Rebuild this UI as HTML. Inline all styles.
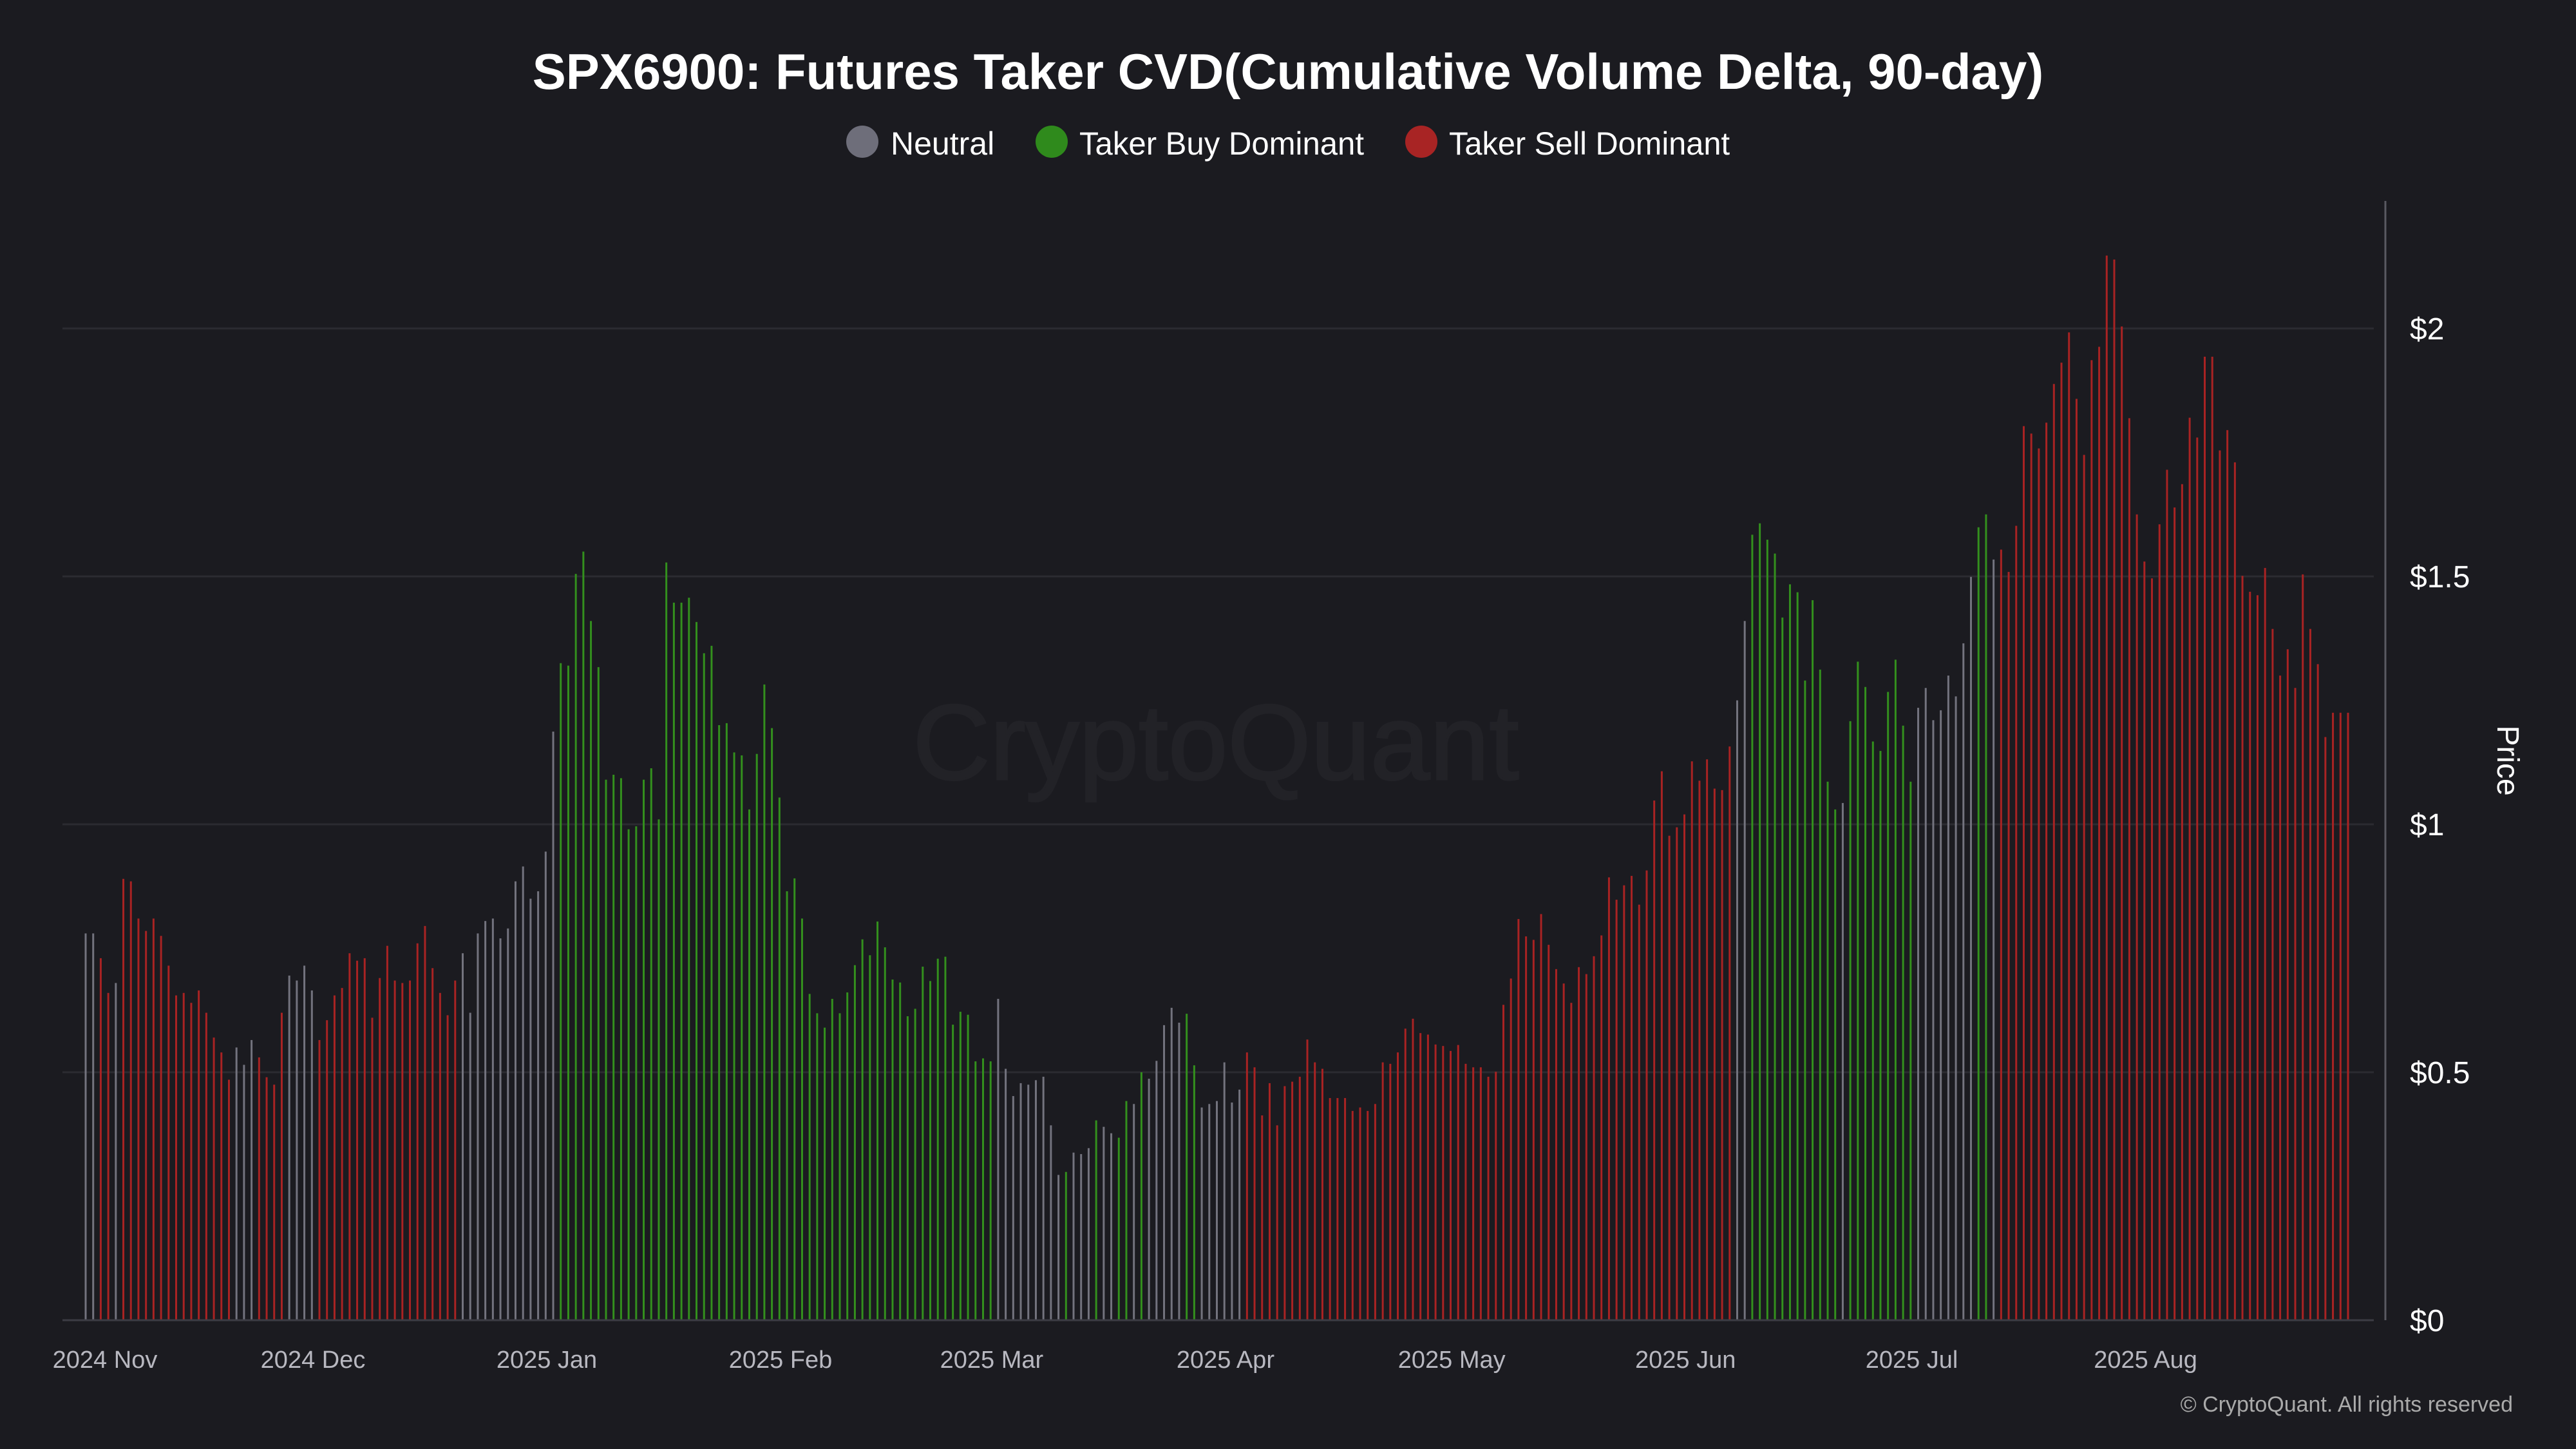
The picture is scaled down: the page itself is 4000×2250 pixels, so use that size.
<!DOCTYPE html>
<html><head><meta charset="utf-8"><style>
body{margin:0;background:#1b1b20;}
svg{display:block}
</style></head><body>
<svg id="chart" width="4000" height="2250" viewBox="0 0 4000 2250" xmlns="http://www.w3.org/2000/svg" font-family="'Liberation Sans', sans-serif">
<rect width="4000" height="2250" fill="#1b1b20"/>
<text x="1888" y="1210" font-size="166" fill="#222227" stroke="#222227" stroke-width="3" text-anchor="middle">CryptoQuant</text>
<text x="2000" y="138" font-size="78" font-weight="bold" fill="#ffffff" text-anchor="middle">SPX6900: Futures Taker CVD(Cumulative Volume Delta, 90-day)</text>
<g>
<g><circle cx="1339" cy="220" r="25" fill="#6e6e7a"/><text x="1383" y="240" font-size="50" fill="#fff">Neutral</text></g>
<g><circle cx="1633" cy="220" r="25" fill="#2f8a1c"/><text x="1676" y="240" font-size="50" fill="#fff" textLength="442" lengthAdjust="spacingAndGlyphs">Taker Buy Dominant</text></g>
<g><circle cx="2207" cy="220" r="25" fill="#a82424"/><text x="2250" y="240" font-size="50" fill="#fff" textLength="436" lengthAdjust="spacingAndGlyphs">Taker Sell Dominant</text></g>
</g>
<g id="grid"></g>
<g id="bars"></g>
<g id="axes"></g>
<text x="3878" y="1181" font-size="48" fill="#fff" text-anchor="middle" transform="rotate(90 3878 1181)">Price</text>
<text x="3902" y="2192" font-size="34" fill="#aaaaaa" text-anchor="end">© CryptoQuant. All rights reserved</text>
</svg>
<script>
const prices=[0.78,0.78,0.73,0.66,0.68,0.89,0.885,0.81,0.785,0.81,0.775,0.715,0.655,0.66,0.64,0.665,0.62,0.57,0.54,0.485,0.55,0.515,0.565,0.53,0.49,0.475,0.62,0.695,0.685,0.715,0.665,0.565,0.605,0.655,0.67,0.74,0.725,0.73,0.61,0.69,0.755,0.685,0.68,0.685,0.76,0.795,0.71,0.66,0.615,0.685,0.74,0.62,0.78,0.805,0.81,0.77,0.79,0.885,0.915,0.85,0.865,
0.945,1.187,1.325,1.32,1.505,1.55,1.41,1.317,1.09,1.10,1.093,0.99,0.996,1.09,1.113,1.01,1.528,1.447,1.447,1.457,1.408,1.345,1.36,1.20,1.204,1.145,1.139,1.03,1.142,1.282,1.194,1.054,0.865,0.891,0.81,0.658,0.619,0.59,0.648,0.619,0.661,0.716,0.768,0.736,0.804,0.752,0.687,0.681,0.613,0.628,0.713,0.684,0.729,0.733,0.596,0.622,0.616,0.522,0.528,0.522,0.648,
0.507,0.452,0.478,0.475,0.484,0.491,0.393,0.293,0.299,0.338,0.335,0.347,0.403,0.39,0.377,0.368,0.442,0.436,0.50,0.487,0.523,0.595,0.63,0.60,0.618,0.514,0.429,0.436,0.442,0.52,0.439,0.465,0.54,0.51,0.413,0.478,0.393,0.472,0.481,0.491,0.566,0.52,0.507,0.448,0.448,0.448,0.422,0.429,0.422,0.436,0.52,0.517,0.54,0.588,0.608,0.579,0.576,0.556,0.553,0.543,
0.555,0.517,0.51,0.51,0.491,0.501,0.636,0.689,0.809,0.774,0.767,0.819,0.757,0.708,0.679,0.64,0.712,0.698,0.734,0.776,0.893,0.848,0.877,0.896,0.838,0.907,1.048,1.107,0.977,0.994,1.02,1.127,1.088,1.131,1.072,1.069,1.157,1.25,1.41,1.584,1.607,1.574,1.546,1.417,1.484,1.468,1.29,1.452,1.312,1.086,1.03,1.043,1.208,1.328,1.277,1.167,1.148,1.267,1.332,1.199,1.086,
1.235,1.275,1.21,1.23,1.30,1.258,1.365,1.499,1.599,1.625,1.534,1.554,1.509,1.602,1.803,1.788,1.758,1.81,1.888,1.931,1.992,1.858,1.745,1.936,1.963,2.147,2.139,2.004,1.819,1.625,1.53,1.496,1.605,1.715,1.639,1.686,1.82,1.78,1.943,1.943,1.754,1.795,1.73,1.501,1.469,1.462,1.517,1.394,1.30,1.353,1.275,1.504,1.394,1.323,1.176,1.225,1.225,1.225];
const regimes=("nnssnsssssssssssssssnnnssssnnnnsssssssssssssssssssnnnnnnnnnn"+"n"+
"nnbbbbbbbbbbbbbbbbbbbbbbbbbbbbbbbbbbbbbbbbbbbbbbbbbbbbbbbbbbnn"+
"nnnnnnnbnnnbnnbbnbnnnnnbbnnnnnnsssssssssssssssssssssssssssss"+
"ssssssssssssssssssssssssssssssssssssnnbbbbbbbbbbbbnbbbbbbbbbn"+
"nnnnnnnbbnssssssssssssssssssssssssssssssssssssssssssssssssss").split("");
const yTicks=[0,0.5,1,1.5,2];
const yTickLabels=["$0","$0.5","$1","$1.5","$2"];
const xTickIdx=[1,31,62,93,121,152,182,213,243,274];
const xTickLabels=["2024 Nov","2024 Dec","2025 Jan","2025 Feb","2025 Mar","2025 Apr","2025 May","2025 Jun","2025 Jul","2025 Aug"];
const colors={n:"#73737e",b:"#33901d",s:"#a92323"};
const NS="http://www.w3.org/2000/svg";
const X0=133,X1=3646,Y0=2050,PX_PER=770;
const N=prices.length;
function xs(i){return X0+i*(X1-X0)/(N-1);}
function ys(v){return Y0-v*PX_PER;}
function mk(t,a){const e=document.createElementNS(NS,t);for(const k in a)e.setAttribute(k,a[k]);return e;}
const grid=document.getElementById('grid'),bars=document.getElementById('bars'),axes=document.getElementById('axes');
yTicks.forEach((v,k)=>{
 if(v>0){const l=mk('line',{x1:97,x2:3686,y1:ys(v),y2:ys(v),stroke:'#2b2b31','stroke-width':3});
 
 
 grid.appendChild(l);}
 const t=mk('text',{x:3742,y:ys(v)+17,'font-size':48,fill:'#ffffff'});
 t.textContent=yTickLabels[k];
 
 
 axes.appendChild(t);
});
prices.forEach((v,i)=>{
 const r=mk('rect',{x:xs(i)-1.5,y:ys(v),width:3,height:Y0-ys(v),fill:colors[regimes[i]||'s']});
 
 
 bars.appendChild(r);
});
const base=mk('line',{x1:97,x2:3686,y1:Y0,y2:Y0,stroke:'#3c3c44','stroke-width':3});


axes.appendChild(base);
const vax=mk('line',{x1:3704,x2:3704,y1:312,y2:Y0,stroke:'#5a5a62','stroke-width':3});


axes.appendChild(vax);
xTickIdx.forEach((d,k)=>{
 let cx=xs(d)-10;
 if(cx<163) cx=163;
 const t=mk('text',{x:cx,y:2124,'font-size':38,fill:'#b8b8c0','text-anchor':'middle'});
 t.textContent=xTickLabels[k];
 
 
 axes.appendChild(t);
});
</script>
</body></html>
